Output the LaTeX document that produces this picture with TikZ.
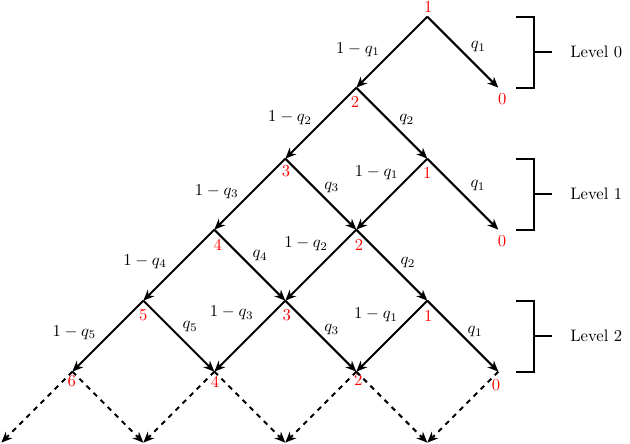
\documentclass[tikz,border=0pt]{standalone}
\usetikzlibrary{arrows.meta}
\begin{document}
\begin{tikzpicture}[x=1.5cm,y=1.5cm,
  edge/.style={line width=1.2pt,-{Stealth[length=6.5pt,width=5.5pt,inset=2pt]}},
  dedge/.style={edge,dashed},
  num/.style={text=red,inner sep=0pt},
  lab/.style={inner sep=0pt},
  brk/.style={line width=1.2pt},
  lvl/.style={anchor=west,inner sep=0pt}]
\useasboundingbox (-6.019,-6.019) rectangle (2.855,0.235);
% vertices
\coordinate (a00) at (0,0);
\coordinate (a1m1) at (-1,-1); \coordinate (a1p1) at (1,-1);
\coordinate (a2m2) at (-2,-2); \coordinate (a2z) at (0,-2);
\coordinate (a3m3) at (-3,-3); \coordinate (a3m1) at (-1,-3); \coordinate (a3p1) at (1,-3);
\coordinate (a4m4) at (-4,-4); \coordinate (a4m2) at (-2,-4); \coordinate (a4z) at (0,-4);
\coordinate (a5m5) at (-5,-5); \coordinate (a5m3) at (-3,-5); \coordinate (a5m1) at (-1,-5); \coordinate (a5p1) at (1,-5);
\coordinate (a6m6) at (-6,-6); \coordinate (a6m4) at (-4,-6); \coordinate (a6m2) at (-2,-6); \coordinate (a6z) at (0,-6);
% state numbers
\node[num] (n00) at (0.014,0.141) {1};
\node[num] (n1m1) at (-1.018,-1.197) {2};
\node[num] (n1p1) at (1.056,-1.163) {0};
\node[num] (n2m2) at (-1.990,-2.169) {3};
\node[num] (n2z) at (0,-2.197) {1};
\node[num] (n3m3) at (-2.952,-3.215) {4};
\node[num] (n3m1) at (-0.962,-3.215) {2};
\node[num] (n3p1) at (1.052,-3.160) {0};
\node[num] (n4m4) at (-4.0,-4.201) {5};
\node[num] (n4m2) at (-1.980,-4.201) {3};
\node[num] (n4z) at (0.014,-4.215) {1};
\node[num] (n5m5) at (-5.008,-5.127) {6};
\node[num] (n5m3) at (-2.990,-5.141) {4};
\node[num] (n5m1) at (-0.972,-5.117) {2};
\node[num] (n5p1) at (0.968,-5.187) {0};
% solid edges
\draw[edge] (a00) -- (a1m1);
\draw[edge] (a00) -- (a1p1);
\draw[edge] (a1m1) -- (a2m2);
\draw[edge] (a1m1) -- (a2z);
\draw[edge] (a2m2) -- (a3m3);
\draw[edge] (a2m2) -- (a3m1);
\draw[edge] (a2z) -- (a3m1);
\draw[edge] (a2z) -- (a3p1);
\draw[edge] (a3m3) -- (a4m4);
\draw[edge] (a3m3) -- (a4m2);
\draw[edge] (a3m1) -- (a4m2);
\draw[edge] (a3m1) -- (a4z);
\draw[edge] (a4m4) -- (a5m5);
\draw[edge] (a4m4) -- (a5m3);
\draw[edge] (a4m2) -- (a5m3);
\draw[edge] (a4m2) -- (a5m1);
\draw[edge] (a4z) -- (a5m1);
\draw[edge] (a4z) -- (a5p1);
% dashed edges
\draw[dedge] (a5m5) -- (a6m6);
\draw[dedge] (a5m5) -- (a6m4);
\draw[dedge] (a5m3) -- (a6m4);
\draw[dedge] (a5m3) -- (a6m2);
\draw[dedge] (a5m1) -- (a6m2);
\draw[dedge] (a5m1) -- (a6z);
\draw[dedge] (a5p1) -- (a6z);
% edge labels
\node[lab] (l1) at (-0.977,-0.459) {$1-q_1$};
\node[lab] (l2) at (-1.934,-1.427) {$1-q_2$};
\node[lab] (l3) at (-2.966,-2.465) {$1-q_3$};
\node[lab] (l4) at (-3.976,-3.451) {$1-q_4$};
\node[lab] (l5) at (-4.972,-4.445) {$1-q_5$};
\node[lab] (l6) at (-0.713,-2.197) {$1-q_1$};
\node[lab] (l7) at (-1.708,-3.201) {$1-q_2$};
\node[lab] (l8) at (-2.755,-4.177) {$1-q_3$};
\node[lab] (l9) at (-0.723,-4.201) {$1-q_1$};
\node[lab] (r1) at (0.718,-0.423) {$q_1$};
\node[lab] (r2) at (-0.290,-1.455) {$q_2$};
\node[lab] (r3) at (0.714,-2.385) {$q_1$};
\node[lab] (r4) at (-1.346,-2.403) {$q_3$};
\node[lab] (r5) at (-2.356,-3.370) {$q_4$};
\node[lab] (r6) at (-0.272,-3.469) {$q_2$};
\node[lab] (r7) at (-3.342,-4.366) {$q_5$};
\node[lab] (r8) at (-1.346,-4.413) {$q_3$};
\node[lab] (r9) at (0.672,-4.437) {$q_1$};
% level brackets
\foreach \t/\b/\m/\k in {0/-1/-0.5/0, -2/-3/-2.5/1, -4/-5/-4.5/2} {
  \draw[brk] (1.25,\t) -- (1.5,\t) -- (1.5,\b) -- (1.25,\b);
  \draw[brk] (1.5,\m) -- (1.75,\m);
  \node[lvl] (lev\k) at (2.01,\m) {Level \k};
}
\end{tikzpicture}
\end{document}
